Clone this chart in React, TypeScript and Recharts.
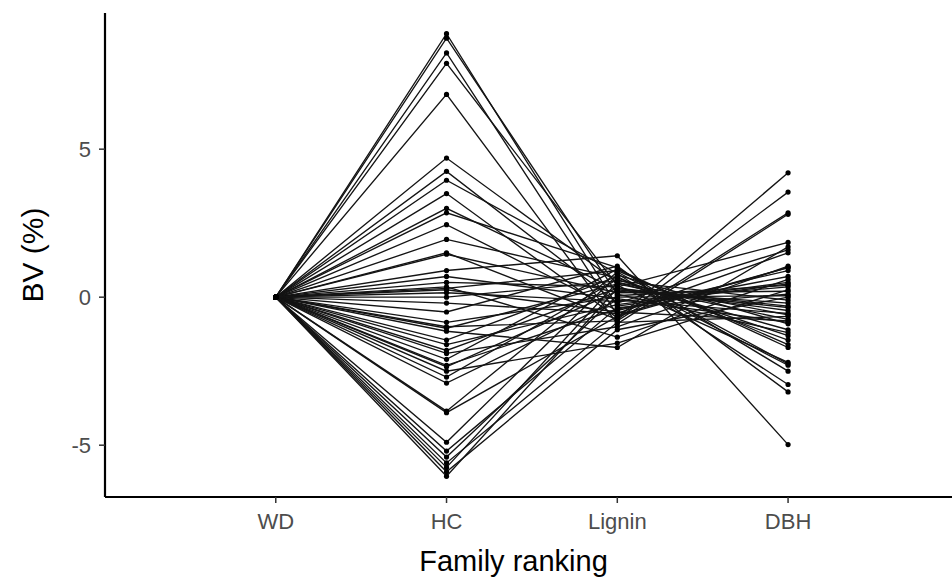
import { LineChart, Line, XAxis, YAxis, Label } from 'recharts';

// trait axes, in plotting order
const traits = ['WD', 'HC', 'Lignin', 'DBH'];

// breeding values (%) per family
const wdBV = [
    0, 0, 0, 0, 0, 0, 0, 0, 0, 0, 0, 0, 0, 0, 0, 0,
    0, 0, 0, 0, 0, 0, 0, 0, 0, 0, 0, 0, 0, 0, 0, 0,
    0, 0, 0, 0, 0, 0, 0, 0, 0, 0, 0, 0, 0, 0, 0, 0,
];
const hcBV = [
    8.9, 8.75, 8.25, 7.9, 6.85, 4.7, 4.25, 3.95, 3.5, 3.0, 2.85, 2.45, 1.95, 1.5, 1.45, 0.9,
    0.7, 0.5, 0.35, 0.3, 0.15, 0.0, -0.2, -0.5, -0.85, -1.0, -1.05, -1.15, -1.45, -1.6, -1.8, -1.9,
    -2.1, -2.3, -2.35, -2.5, -2.7, -2.9, -3.85, -3.9, -4.9, -5.2, -5.4, -5.6, -5.75, -5.9, -6.05, 0.25,
];
const ligninBV = [
    -0.3, 0.1, -0.6, 0.4, -0.9, 0.5, -0.2, 0.8, -0.7, 0.25, 1.0, -0.45, 0.65, -0.75, 0.15, 1.4,
    -0.05, 0.35, -1.35, 0.9, -0.15, 0.55, -0.55, 1.05, 0.0, -0.8, 0.45, -1.7, 0.7, -0.25, 0.3, -1.0,
    0.95, -0.4, 0.2, -1.55, 0.6, -0.1, 0.85, -0.65, 0.75, -0.35, 0.05, -0.85, 0.5, -1.1, 0.3, -0.5,
];
const dbhBV = [
    0.45, -1.2, 1.0, -2.2, 2.8, -0.6, 1.6, -2.95, 4.2, -0.35, -2.5, 0.9, -1.45, 3.55, 0.2, -4.98,
    -0.85, 1.85, 0.6, -1.6, 0.35, -0.1, 1.5, -3.2, 0.05, 2.85, -0.75, 1.7, -2.3, 0.5, -0.45, 1.05,
    -1.7, 0.7, -0.2, 0.25, -1.3, -0.55, -2.25, 1.0, -0.9, 0.1, 0.4, -0.65, -1.1, 0.0, -0.3, -0.8,
];

const yTicks = [-5, 0, 5];

const columns = [wdBV, hcBV, ligninBV, dbhBV];
const familyKeys = hcBV.map((_, i) => `f${i}`);

// one row per trait, one key per family
const rows = traits.map((name, j) => {
    const row: any = { pos: j + 1, name };
    familyKeys.forEach((key, i) => {
        row[key] = columns[j][i];
    });
    return row;
});

const FONT = '"Liberation Sans", Arial, Helvetica, sans-serif';

export default function App() {
    return (
        <div style={{ position: 'absolute', left: 0, top: 0, background: '#fff', fontFamily: FONT }}>
            <LineChart width={952} height={583} data={rows} margin={{ top: 13, right: 0, bottom: 0, left: 0 }}>
                <XAxis
                    type="number"
                    dataKey="pos"
                    domain={[0, 4.96]}
                    ticks={[1, 2, 3, 4]}
                    tickFormatter={(v: number) => traits[v - 1]}
                    height={86}
                    tickSize={6}
                    tickMargin={10}
                    tick={{ fill: '#4d4d4d', fontSize: 22, fontFamily: FONT }}
                    tickLine={{ stroke: '#333', strokeWidth: 1.5 }}
                    axisLine={{ stroke: '#000', strokeWidth: 2.2 }}
                    allowDataOverflow
                >
                    <Label
                        value="Family ranking"
                        position="insideBottom"
                        offset={12}
                        dx={-15}
                        style={{ fontSize: 29, fill: '#000', fontFamily: FONT }}
                    />
                </XAxis>
                <YAxis
                    type="number"
                    domain={[-6.75, 9.6]}
                    ticks={yTicks}
                    width={105}
                    tickSize={6}
                    tickMargin={8}
                    tick={{ fill: '#4d4d4d', fontSize: 22, fontFamily: FONT }}
                    tickLine={{ stroke: '#333', strokeWidth: 1.5 }}
                    axisLine={{ stroke: '#000', strokeWidth: 2.2 }}
                    allowDataOverflow
                >
                    <Label
                        value="BV (%)"
                        angle={-90}
                        position="insideLeft"
                        offset={32}
                        style={{ fontSize: 30, fill: '#000', textAnchor: 'middle', fontFamily: FONT }}
                    />
                </YAxis>
                {familyKeys.map((key) => (
                    <Line
                        key={key}
                        type="linear"
                        dataKey={key}
                        stroke="#141414"
                        strokeWidth={1.35}
                        dot={{ r: 2.6, fill: '#000', stroke: 'none' }}
                        activeDot={false}
                        isAnimationActive={false}
                    />
                ))}
            </LineChart>
        </div>
    );
}
